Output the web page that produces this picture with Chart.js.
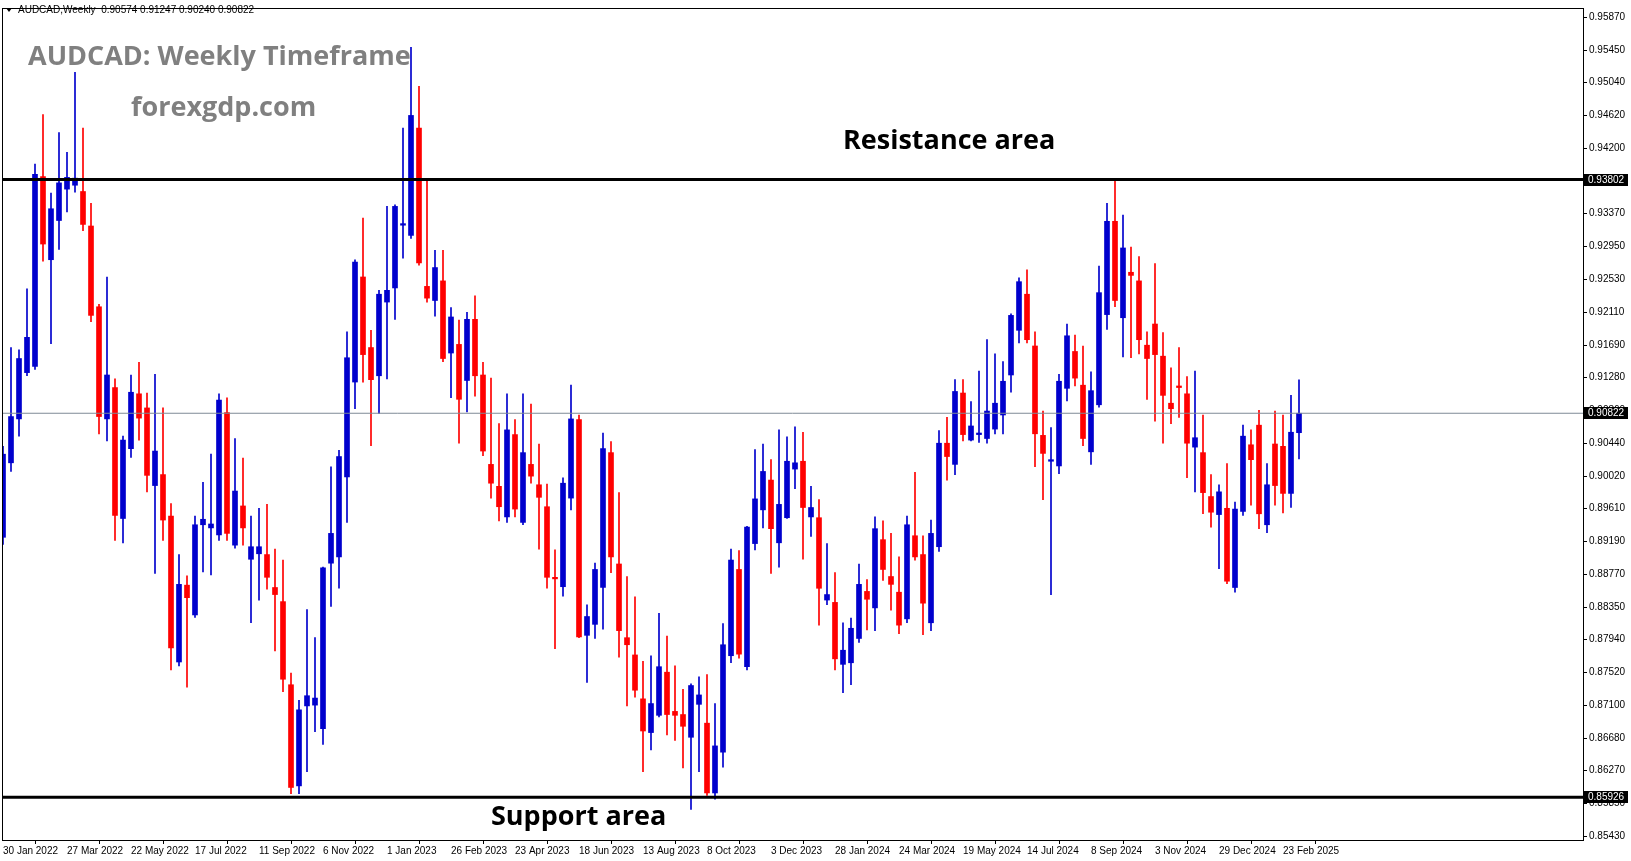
<!DOCTYPE html>
<html><head><meta charset="utf-8">
<script src="https://cdn.jsdelivr.net/npm/chart.js@4.4.1/dist/chart.umd.min.js"></script>
<style>html,body{margin:0;padding:0;background:#fff;overflow:hidden}#wrap{width:1631px;height:861px}</style>
</head><body><div id="wrap"><canvas id="c" width="1631" height="861"></canvas></div>
<script>
const xTickLabels = ['30 Jan 2022','27 Mar 2022','22 May 2022','17 Jul 2022','11 Sep 2022','6 Nov 2022','1 Jan 2023','26 Feb 2023','23 Apr 2023','18 Jun 2023','13 Aug 2023','8 Oct 2023','3 Dec 2023','28 Jan 2024','24 Mar 2024','19 May 2024','14 Jul 2024','8 Sep 2024','3 Nov 2024','29 Dec 2024','23 Feb 2025'];
const yTickValues = [0.95870,0.95450,0.95040,0.94620,0.94200,0.93790,0.93370,0.92950,0.92530,0.92110,0.91690,0.91280,0.90860,0.90440,0.90020,0.89610,0.89190,0.88770,0.88350,0.87940,0.87520,0.87100,0.86680,0.86270,0.85850,0.85430];
const opens = [.8924,.9019,.9075,.9134,.9142,.9384,.9278,.9328,.9368,.9373,.9365,.9321,.9218,.9075,.9115,.8948,.9037,.9107,.9089,.8990,.9004,.8951,.8765,.8863,.8825,.8940,.8936,.8927,.9083,.8914,.8964,.8896,.8903,.8902,.8860,.8842,.8736,.8607,.8709,.8710,.8680,.8891,.8899,.9001,.9122,.9256,.9166,.9130,.9224,.9242,.9322,.9309,.9446,.9244,.9226,.9251,.9159,.9170,.9124,.9202,.9131,.9017,.8989,.8950,.9055,.8943,.9017,.8991,.8963,.8873,.8861,.8974,.9074,.8799,.8813,.8860,.9032,.8890,.8796,.8774,.8718,.8675,.8697,.8752,.8702,.8698,.8669,.8711,.8687,.8598,.8650,.8773,.8883,.8759,.8916,.8959,.8997,.8917,.8949,.9011,.9021,.8950,.8949,.8844,.8841,.8762,.8764,.8795,.8855,.8834,.8921,.8874,.8854,.8820,.8926,.8902,.8815,.8912,.9044,.9017,.9108,.9048,.9055,.9050,.9062,.9080,.9131,.9188,.9234,.9168,.9054,.9021,.9015,.9114,.9161,.9118,.9033,.9093,.9208,.9327,.9204,.9262,.9251,.9169,.9196,.9155,.9095,.9117,.9107,.9039,.9032,.8976,.8953,.8961,.8860,.8957,.9042,.9067,.8940,.9043,.9040,.8980,.90574];
const highs = [.9040,.9166,.9163,.9241,.9400,.9463,.9363,.9440,.9415,.9517,.9446,.9350,.9221,.9256,.9126,.9053,.9131,.9147,.9108,.9132,.9089,.8967,.8902,.8875,.8951,.8994,.9030,.9107,.9102,.9050,.9025,.8951,.8961,.8966,.8909,.8895,.8751,.8716,.8832,.8796,.8886,.9014,.9035,.9186,.9278,.9331,.9188,.9239,.9346,.9348,.9446,.9549,.9499,.9380,.9290,.9290,.9217,.9201,.9211,.9232,.9147,.9127,.9069,.9107,.9074,.9107,.9094,.9043,.8992,.8908,.9000,.9118,.9080,.8838,.8891,.9057,.9046,.8981,.8874,.8848,.8766,.8773,.8827,.8798,.8760,.8730,.8737,.8746,.8749,.8712,.8814,.8909,.8907,.8938,.9036,.9043,.9023,.9061,.9052,.9065,.9058,.8989,.8972,.8916,.8879,.8815,.8821,.8890,.8870,.8950,.8945,.8929,.8899,.8951,.9007,.8926,.8946,.9060,.9077,.9125,.9125,.9097,.9136,.9176,.9158,.9148,.9209,.9255,.9265,.9186,.9085,.9064,.9132,.9196,.9182,.9168,.9135,.9270,.9350,.9380,.9335,.9294,.9282,.9186,.9273,.9185,.9140,.9166,.9129,.9136,.9080,.9004,.8991,.9018,.8969,.9067,.9061,.9086,.9018,.9085,.9080,.9105,.91247];
const lows = [.8915,.9008,.9053,.9130,.9138,.9276,.9171,.9291,.9339,.9364,.9315,.9199,.9056,.9047,.8920,.8917,.9026,.9048,.8982,.8878,.8920,.8755,.8760,.8733,.8822,.8880,.8876,.8920,.8920,.8910,.8914,.8815,.8844,.8858,.8779,.8727,.8597,.8597,.8625,.8676,.8660,.8836,.8859,.8943,.9088,.9122,.9041,.9082,.9126,.9202,.9280,.9305,.9271,.9224,.9206,.9148,.9102,.9044,.9084,.9104,.9028,.8974,.8945,.8943,.8950,.8940,.8993,.8909,.8859,.8782,.8849,.8959,.8796,.8739,.8795,.8807,.8879,.8771,.8709,.8720,.8625,.8653,.8695,.8672,.8665,.8630,.8577,.8625,.8595,.8590,.8631,.8764,.8770,.8755,.8908,.8936,.8878,.8886,.8948,.8986,.8896,.8925,.8812,.8838,.8755,.8726,.8736,.8790,.8806,.8805,.8869,.8831,.8801,.8815,.8895,.8800,.8805,.8906,.8997,.9004,.9047,.9047,.9045,.9044,.9056,.9056,.9109,.9172,.9172,.9014,.8972,.8851,.9005,.9098,.9117,.9041,.9017,.9090,.9189,.9218,.9154,.9153,.9158,.9100,.9072,.9044,.9069,.9077,.9000,.8982,.8954,.8937,.8884,.8865,.8854,.8952,.8965,.8935,.8930,.8965,.8955,.8962,.90240];
const closes = [.9030,.9078,.9152,.9179,.9387,.9298,.9343,.9376,.9383,.9382,.9323,.9207,.9078,.9131,.8952,.9048,.9109,.9076,.9003,.9034,.8946,.8783,.8864,.8847,.8940,.8947,.8941,.9099,.8929,.8983,.8936,.8912,.8912,.8873,.8851,.8743,.8605,.8704,.8722,.8719,.8885,.8929,.9027,.9153,.9275,.9157,.9125,.9234,.9239,.9346,.9324,.9462,.9274,.9229,.9268,.9152,.9205,.9100,.9202,.9130,.9034,.8993,.8963,.9061,.8960,.9032,.9002,.8975,.8873,.8871,.8993,.9075,.8797,.8823,.8883,.9037,.8899,.8805,.8787,.8729,.8677,.8712,.8759,.8698,.8697,.8683,.8735,.8723,.8598,.8658,.8787,.8895,.8775,.8937,.8973,.9008,.8935,.8966,.9021,.9019,.8962,.8962,.8859,.8851,.8769,.8780,.8808,.8864,.8845,.8935,.8883,.8864,.8812,.8940,.8899,.8840,.8929,.9044,.9027,.9110,.9055,.9066,.9057,.9085,.9095,.9123,.9207,.9250,.9176,.9056,.9031,.9023,.9123,.9181,.9127,.9050,.9111,.9236,.9327,.9226,.9293,.9258,.9176,.9152,.9157,.9105,.9088,.9115,.9044,.9051,.8981,.8956,.8982,.8868,.8960,.9053,.9023,.8954,.8991,.8990,.8980,.9058,.90822];
const resistance = 0.93802, support = 0.85926, lastPrice = 0.90822;

const BLUE = '#0000CD', RED = '#FF0000';
const XMIN = -0.125, XMAX = 197.5;
const col = i => closes[i] >= opens[i] ? BLUE : RED;
const wickData = highs.map((h, i) => ({x: i, y: [lows[i], h]}));
const bodyData = opens.map((o, i) => ({x: i, y: [o, closes[i]]}));
const hline = v => [{x: XMIN, y: v}, {x: XMAX, y: v}];

const overlay = {
  id: 'overlay',
  afterDraw(chart) {
    const ctx = chart.ctx, a = chart.chartArea, ys = chart.scales.y;
    ctx.save();
    ctx.strokeStyle = '#000'; ctx.lineWidth = 1;
    ctx.strokeRect(a.left + 0.5, a.top + 0.5, a.right - a.left, a.bottom - a.top);
    ctx.font = '10px "Liberation Sans"';
    ctx.textBaseline = 'middle'; ctx.textAlign = 'left';
    [resistance, lastPrice, support].forEach(v => {
      const y = Math.round(ys.getPixelForValue(v));
      ctx.fillStyle = '#000'; ctx.fillRect(a.right + 1, y - 6, 44, 12);
      ctx.fillStyle = '#fff'; ctx.fillText(v.toFixed(5), a.right + 5, y);
    });
    ctx.fillStyle = '#000';
    ctx.beginPath(); ctx.moveTo(6, 8); ctx.lineTo(12, 8); ctx.lineTo(9, 12); ctx.closePath(); ctx.fill();
    ctx.font = '10px "Liberation Sans"';
    ctx.fillText('AUDCAD,Weekly  0.90574 0.91247 0.90240 0.90822', 18, 10);
    ctx.fillStyle = '#808080';
    ctx.font = 'bold 27px "Open Sans"';
    ctx.fillText('AUDCAD: Weekly Timeframe', 28, 57);
    ctx.fillText('forexgdp.com', 131, 108);
    ctx.fillStyle = '#000';
    ctx.fillText('Resistance area', 843, 141);
    ctx.fillText('Support area', 491, 817);
    ctx.restore();
  }
};

new Chart(document.getElementById('c'), {
  type: 'bar',
  data: {
    datasets: [
      {type: 'line', data: hline(lastPrice), borderColor: '#7f8a96', borderWidth: 1, pointRadius: 0},
      {type: 'line', data: hline(resistance), borderColor: '#000', borderWidth: 3, pointRadius: 0},
      {type: 'line', data: hline(support), borderColor: '#000', borderWidth: 3, pointRadius: 0},
      {data: wickData, barThickness: 1, grouped: false, backgroundColor: c => col(c.dataIndex)},
      {data: bodyData, barThickness: 5, grouped: false, backgroundColor: c => col(c.dataIndex)}
    ]
  },
  options: {
    responsive: false, animation: false, devicePixelRatio: 1,
    layout: {padding: {left: 2, top: 3, right: 0, bottom: 0}},
    plugins: {legend: {display: false}, tooltip: {enabled: false}},
    scales: {
      x: {
        type: 'linear', min: XMIN, max: XMAX, offset: false,
        afterFit: s => { s.height = 21; },
        afterBuildTicks: s => { s.ticks = xTickLabels.map((_, k) => ({value: k * 8})); },
        ticks: {autoSkip: false, maxRotation: 0, align: 'start', padding: 1, color: '#000',
          font: {family: 'Liberation Sans', size: 10},
          callback: v => xTickLabels[Math.round(v / 8)]},
        grid: {drawOnChartArea: false, tickLength: 4, color: '#000'},
        border: {color: '#000'}
      },
      y: {
        position: 'right', min: 0.85380, max: 0.95990,
        afterFit: s => { s.width = 48; },
        afterBuildTicks: s => { s.ticks = yTickValues.map(v => ({value: v})); },
        ticks: {autoSkip: false, padding: 2, color: '#000',
          font: {family: 'Liberation Sans', size: 10},
          callback: v => v.toFixed(5)},
        grid: {drawOnChartArea: false, tickLength: 4, color: '#000'},
        border: {color: '#000'}
      }
    }
  },
  plugins: [overlay]
});
</script></body></html>
